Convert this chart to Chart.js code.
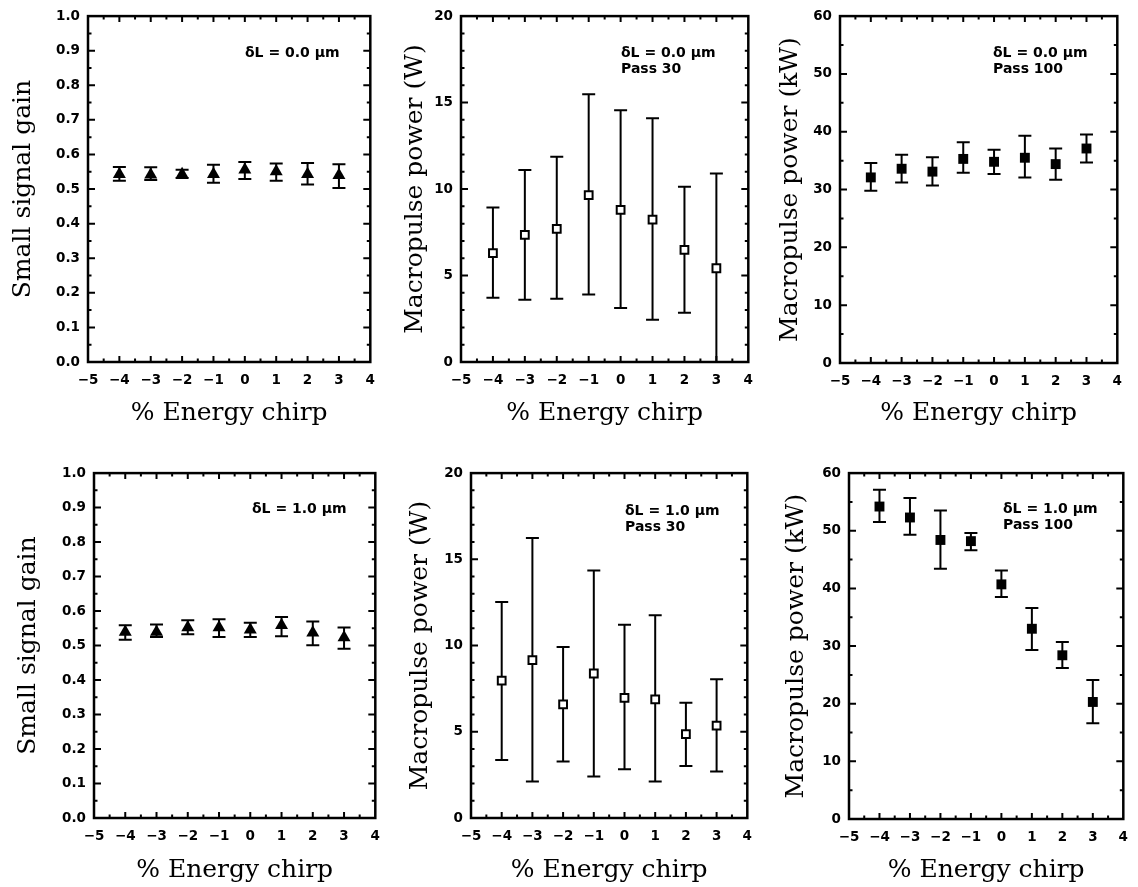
<!DOCTYPE html>
<html>
<head>
<meta charset="utf-8">
<script src="https://cdn.jsdelivr.net/npm/chart.js@4.4.1/dist/chart.umd.min.js"></script>
<style>
  body { margin: 0; background: #fff; width: 1138px; height: 887px; position: relative; overflow: hidden; }
  canvas { position: absolute; }
</style>
</head>
<body>
<script>
// % energy chirp of each measurement
const chirp = [-4, -3, -2, -1, 0, 1, 2, 3];
const xTickValues = [-5, -4, -3, -2, -1, 0, 1, 2, 3, 4];

// dL = 0.0 um
const gain00 = [0.543, 0.541, 0.543, 0.543, 0.556, 0.551, 0.543, 0.540];
const gain00Low = [0.524, 0.526, 0.532, 0.518, 0.529, 0.524, 0.513, 0.503];
const gain00High = [0.564, 0.563, 0.556, 0.570, 0.578, 0.574, 0.575, 0.572];

const pass30_00 = [6.3, 7.35, 7.7, 9.65, 8.8, 8.23, 6.48, 5.42];
const pass30_00Low = [3.71, 3.6, 3.65, 3.9, 3.12, 2.44, 2.85, 0];
const pass30_00High = [8.94, 11.1, 11.87, 15.48, 14.56, 14.1, 10.13, 10.9];

const pass100_00 = [32.1, 33.6, 33.1, 35.3, 34.8, 35.5, 34.4, 37.1];
const pass100_00Low = [29.8, 31.2, 30.7, 32.9, 32.7, 32.1, 31.7, 34.7];
const pass100_00High = [34.6, 36.0, 35.6, 38.2, 36.9, 39.3, 37.1, 39.5];

// dL = 1.0 um
const gain10 = [0.539, 0.539, 0.552, 0.552, 0.546, 0.559, 0.537, 0.523];
const gain10Low = [0.517, 0.525, 0.533, 0.525, 0.525, 0.527, 0.501, 0.491];
const gain10High = [0.559, 0.561, 0.573, 0.576, 0.566, 0.583, 0.570, 0.552];

const pass30_10 = [7.96, 9.15, 6.59, 8.38, 6.97, 6.88, 4.86, 5.36];
const pass30_10Low = [3.37, 2.12, 3.28, 2.41, 2.83, 2.12, 3.02, 2.70];
const pass30_10High = [12.52, 16.24, 9.92, 14.35, 11.21, 11.75, 6.69, 8.05];

const pass100_10 = [54.2, 52.3, 48.4, 48.2, 40.7, 33.0, 28.4, 20.3];
const pass100_10Low = [51.5, 49.3, 43.4, 46.6, 38.5, 29.3, 26.2, 16.6];
const pass100_10High = [57.1, 55.7, 53.5, 49.6, 43.1, 36.6, 30.7, 24.1];

const gainTicks = [0, 0.1, 0.2, 0.3, 0.4, 0.5, 0.6, 0.7, 0.8, 0.9, 1.0];
const wattTicks = [0, 5, 10, 15, 20];
const kwTicks = [0, 10, 20, 30, 40, 50, 60];

const tickFont = { family: 'DejaVu Sans', size: 13.5, weight: 'bold' };
const titleFont = { family: 'DejaVu Serif', size: 25 };

const panels = [
  { l: 88, t: 15, r: 373, b: 362, ytx: 23, xty: 413, title: 'Small signal gain', yTicks: gainTicks, minor: 0.05, digits: 1,
    vals: gain00, low: gain00Low, high: gain00High, mark: 'tri', note: ['δL = 0.0 μm'], nx: 157, ny: 37 },
  { l: 461, t: 15, r: 751, b: 362, ytx: 415, xty: 413, title: 'Macropulse power (W)', yTicks: wattTicks, minor: 1, digits: 0,
    vals: pass30_00, low: pass30_00Low, high: pass30_00High, mark: 'open', note: ['δL = 0.0 μm', 'Pass 30'], nx: 160, ny: 37 },
  { l: 840, t: 15, r: 1120, b: 363, ytx: 790, xty: 413, title: 'Macropulse power (kW)', yTicks: kwTicks, minor: 5, digits: 0,
    vals: pass100_00, low: pass100_00Low, high: pass100_00High, mark: 'fill', note: ['δL = 0.0 μm', 'Pass 100'], nx: 153, ny: 37 },
  { l: 94, t: 472, r: 378, b: 818, ytx: 28, xty: 870, title: 'Small signal gain', yTicks: gainTicks, minor: 0.05, digits: 1,
    vals: gain10, low: gain10Low, high: gain10High, mark: 'tri', note: ['δL = 1.0 μm'], nx: 158, ny: 36 },
  { l: 471, t: 472, r: 750, b: 818, ytx: 420, xty: 870, title: 'Macropulse power (W)', yTicks: wattTicks, minor: 1, digits: 0,
    vals: pass30_10, low: pass30_10Low, high: pass30_10High, mark: 'open', note: ['δL = 1.0 μm', 'Pass 30'], nx: 154, ny: 38 },
  { l: 849, t: 472, r: 1126, b: 819, ytx: 796, xty: 870, title: 'Macropulse power (kW)', yTicks: kwTicks, minor: 5, digits: 0,
    vals: pass100_10, low: pass100_10Low, high: pass100_10High, mark: 'fill', note: ['δL = 1.0 μm', 'Pass 100'], nx: 154, ny: 36 }
];

function fmt(v, digits) {
  const s = Math.abs(v).toFixed(digits);
  return v < 0 ? '\u2212' + s : s;
}

function makePlugin(p) {
  return {
    id: 'frameAndBars',
    beforeDatasetsDraw(chart) {
      const { ctx, scales: { x, y } } = chart;
      ctx.save();
      ctx.strokeStyle = '#000';
      ctx.lineWidth = 2;
      p.vals.forEach((v, i) => {
        const px = x.getPixelForValue(chirp[i]);
        const y1 = y.getPixelForValue(p.low[i]);
        const y2 = y.getPixelForValue(p.high[i]);
        ctx.beginPath();
        ctx.moveTo(px, y1); ctx.lineTo(px, y2);
        ctx.moveTo(px - 6.5, y1); ctx.lineTo(px + 6.5, y1);
        ctx.moveTo(px - 6.5, y2); ctx.lineTo(px + 6.5, y2);
        ctx.stroke();
      });
      ctx.restore();
    },
    afterDraw(chart) {
      const { ctx, chartArea: a, scales: { x, y } } = chart;
      ctx.save();
      ctx.strokeStyle = '#000';
      ctx.lineWidth = 2.5;
      ctx.strokeRect(a.left, a.top, a.right - a.left, a.bottom - a.top);
      ctx.lineWidth = 2;
      ctx.beginPath();
      // x ticks, every 0.5, inward on top and bottom
      for (let k = -10; k <= 8; k++) {
        const v = k / 2;
        if (v <= x.min || v >= x.max) continue;
        const px = x.getPixelForValue(v);
        const len = k % 2 === 0 ? 6 : 3.5;
        ctx.moveTo(px, a.bottom); ctx.lineTo(px, a.bottom - len);
        ctx.moveTo(px, a.top); ctx.lineTo(px, a.top + len);
      }
      // y ticks, inward on left and right
      const majorStep = p.yTicks[1] - p.yTicks[0];
      const n = Math.round((y.max - y.min) / p.minor);
      for (let k = 1; k < n; k++) {
        const v = y.min + k * p.minor;
        const py = y.getPixelForValue(v);
        const isMajor = Math.abs(v / majorStep - Math.round(v / majorStep)) < 1e-6;
        const len = isMajor ? 7 : 3.5;
        ctx.moveTo(a.left, py); ctx.lineTo(a.left + len, py);
        ctx.moveTo(a.right, py); ctx.lineTo(a.right - len, py);
      }
      ctx.stroke();
      // annotation
      ctx.fillStyle = '#000';
      ctx.font = 'bold 14px "DejaVu Sans"';
      ctx.textBaseline = 'middle';
      ctx.textAlign = 'left';
      p.note.forEach((line, k) => {
        ctx.fillText(line, a.left + p.nx, a.top + p.ny + k * 16);
      });
      ctx.restore();
    }
  };
}

const titleOff = titleFont.size * 1.2 / 2;

panels.forEach(p => {
  const left = Math.round(p.ytx - titleOff);
  const top = p.t - 15;
  const padRight = 12, padBottom = 2;
  const yW = p.l - left;
  const xH = Math.round(p.xty + titleOff - p.b);
  const width = p.r + padRight - left;
  const height = 15 + (p.b - p.t) + xH + padBottom;

  const canvas = document.createElement('canvas');
  canvas.width = width;
  canvas.height = height;
  canvas.style.left = left + 'px';
  canvas.style.top = top + 'px';
  document.body.appendChild(canvas);

  let point;
  if (p.mark === 'tri') {
    point = { pointStyle: 'triangle', pointRadius: 7.5, pointBackgroundColor: '#000', pointBorderColor: '#000', pointBorderWidth: 0 };
  } else if (p.mark === 'open') {
    point = { pointStyle: 'rect', pointRadius: 5.5, pointBackgroundColor: '#fff', pointBorderColor: '#000', pointBorderWidth: 2 };
  } else {
    point = { pointStyle: 'rect', pointRadius: 7, pointBackgroundColor: '#000', pointBorderColor: '#000', pointBorderWidth: 0 };
  }

  new Chart(canvas, {
    type: 'scatter',
    data: {
      datasets: [Object.assign({
        data: chirp.map((c, i) => ({ x: c, y: p.vals[i] })),
        showLine: false,
        clip: false
      }, point)]
    },
    options: {
      responsive: false,
      animation: false,
      layout: { padding: { left: 0, top: 15, right: padRight, bottom: padBottom } },
      plugins: { legend: { display: false }, tooltip: { enabled: false } },
      scales: {
        x: {
          type: 'linear',
          min: -5,
          max: 4,
          afterBuildTicks: s => { s.ticks = xTickValues.map(v => ({ value: v })); },
          afterFit: s => { s.height = xH; },
          grid: { display: false, drawTicks: false },
          border: { display: false },
          ticks: { color: '#000', font: tickFont, padding: 10, maxRotation: 0, autoSkip: false,
                   callback: v => fmt(v, 0) },
          title: { display: true, text: '% Energy chirp', color: '#000', font: titleFont, padding: 0 }
        },
        y: {
          type: 'linear',
          min: p.yTicks[0],
          max: p.yTicks[p.yTicks.length - 1],
          afterBuildTicks: s => { s.ticks = p.yTicks.map(v => ({ value: v })); },
          afterFit: s => { s.width = yW; },
          grid: { display: false, drawTicks: false },
          border: { display: false },
          ticks: { color: '#000', font: tickFont, padding: 8, autoSkip: false,
                   callback: v => fmt(v, p.digits) },
          title: { display: true, text: p.title, color: '#000', font: titleFont, padding: 0 }
        }
      }
    },
    plugins: [makePlugin(p)]
  });
});
</script>
</body>
</html>
